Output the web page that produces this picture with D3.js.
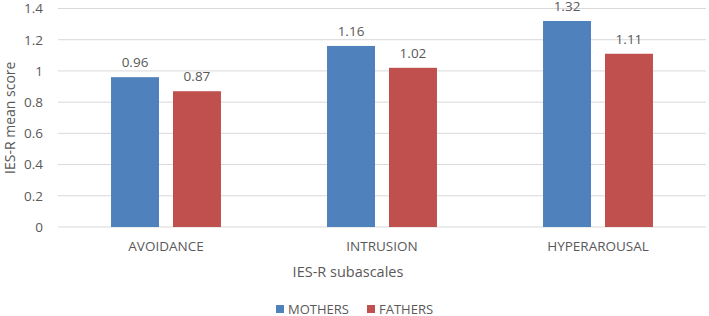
<!DOCTYPE html>
<html>
<head>
<meta charset="utf-8">
<script src="https://cdn.jsdelivr.net/npm/d3@7"></script>
<style>
  body { margin: 0; background: #fff; }
  text { font-family: "Open Sans", sans-serif; fill: #595959; }
</style>
</head>
<body>
<div class="chart"></div>
<script>
// data
const categories = ['AVOIDANCE', 'INTRUSION', 'HYPERAROUSAL']
const seriesNames = ['MOTHERS', 'FATHERS']
const mothers = [0.96, 1.16, 1.32]
const fathers = [0.87, 1.02, 1.11]
const yTicks = [0, 0.2, 0.4, 0.6, 0.8, 1, 1.2, 1.4]
const colors = ['#4f81bd', '#c0504d']

const w = 709
const h = 316
const margin = {top: 8.5, right: 3, bottom: 89, left: 58}

const svg = d3.select('.chart')
    .append('svg')
    .attr('width', w)
    .attr('height', h)

const values = [mothers, fathers]

const x0 = d3.scaleBand()
    .domain(categories)
    .range([margin.left, w - margin.right])
    .paddingInner(0.491)
    .paddingOuter(0.2455)

const x1 = d3.scaleBand()
    .domain(seriesNames)
    .range([0, x0.bandwidth()])
    .paddingInner(0.226)

const y = d3.scaleLinear()
    .domain([0, 1.4])
    .range([h - margin.bottom, margin.top])

// gridlines
svg.append('g')
    .selectAll('line')
    .data(yTicks)
    .join('line')
    .attr('x1', margin.left)
    .attr('x2', w - margin.right)
    .attr('y1', d => y(d))
    .attr('y2', d => y(d))
    .attr('stroke', '#d9d9d9')
    .attr('stroke-width', 1)

// y axis labels
const yAxis = svg.append('g')
    .attr('transform', `translate(${margin.left - 12}, 0)`)
    .call(d3.axisLeft(y).tickValues(yTicks).tickSize(0).tickFormat(d3.format('')))
yAxis.select('.domain').remove()
yAxis.selectAll('text')
    .attr('font-size', 13.5)
    .style('font-family', '"Open Sans", sans-serif')
    .attr('fill', '#595959')

// bars
const groups = svg.append('g')
    .selectAll('g')
    .data(categories)
    .join('g')
    .attr('transform', d => `translate(${x0(d)}, 0)`)

groups.selectAll('rect')
    .data((d, i) => seriesNames.map((s, j) => ({s, j, v: values[j][i]})))
    .join('rect')
    .attr('x', d => x1(d.s))
    .attr('width', x1.bandwidth())
    .attr('y', d => y(d.v))
    .attr('height', d => y(0) - y(d.v))
    .attr('fill', d => colors[d.j])

groups.selectAll('text.val')
    .data((d, i) => seriesNames.map((s, j) => ({s, j, v: values[j][i]})))
    .join('text')
    .attr('class', 'val')
    .attr('x', d => x1(d.s) + x1.bandwidth() / 2)
    .attr('y', d => y(d.v) - 10)
    .attr('text-anchor', 'middle')
    .attr('font-size', 13.5)
    .text(d => d.v)

// x axis labels
const xAxis = svg.append('g')
    .attr('transform', `translate(0, ${y(0)})`)
    .call(d3.axisBottom(x0).tickSize(0).tickPadding(14))
xAxis.select('.domain').remove()
xAxis.selectAll('text')
    .attr('font-size', 13.5)
    .style('font-family', '"Open Sans", sans-serif')
    .attr('fill', '#595959')

// axis titles
svg.append('text')
    .attr('x', 348)
    .attr('y', 277)
    .attr('text-anchor', 'middle')
    .attr('font-size', 14.5)
    .text('IES-R subascales')

svg.append('text')
    .attr('transform', `translate(15, ${(y(0) + y(1.4)) / 2}) rotate(-90)`)
    .attr('text-anchor', 'middle')
    .attr('font-size', 14)
    .text('IES-R mean score')

// legend
const legendX = [276, 367]
const legend = svg.append('g')
    .selectAll('g')
    .data(seriesNames)
    .join('g')
    .attr('transform', (d, i) => `translate(${legendX[i]}, 309)`)
legend.append('rect')
    .attr('x', 0)
    .attr('y', -4)
    .attr('width', 8)
    .attr('height', 8)
    .attr('fill', (d, i) => colors[i])
legend.append('text')
    .attr('x', 12)
    .attr('y', 4.5)
    .attr('font-size', 13)
    .text(d => d)
</script>
</body>
</html>
